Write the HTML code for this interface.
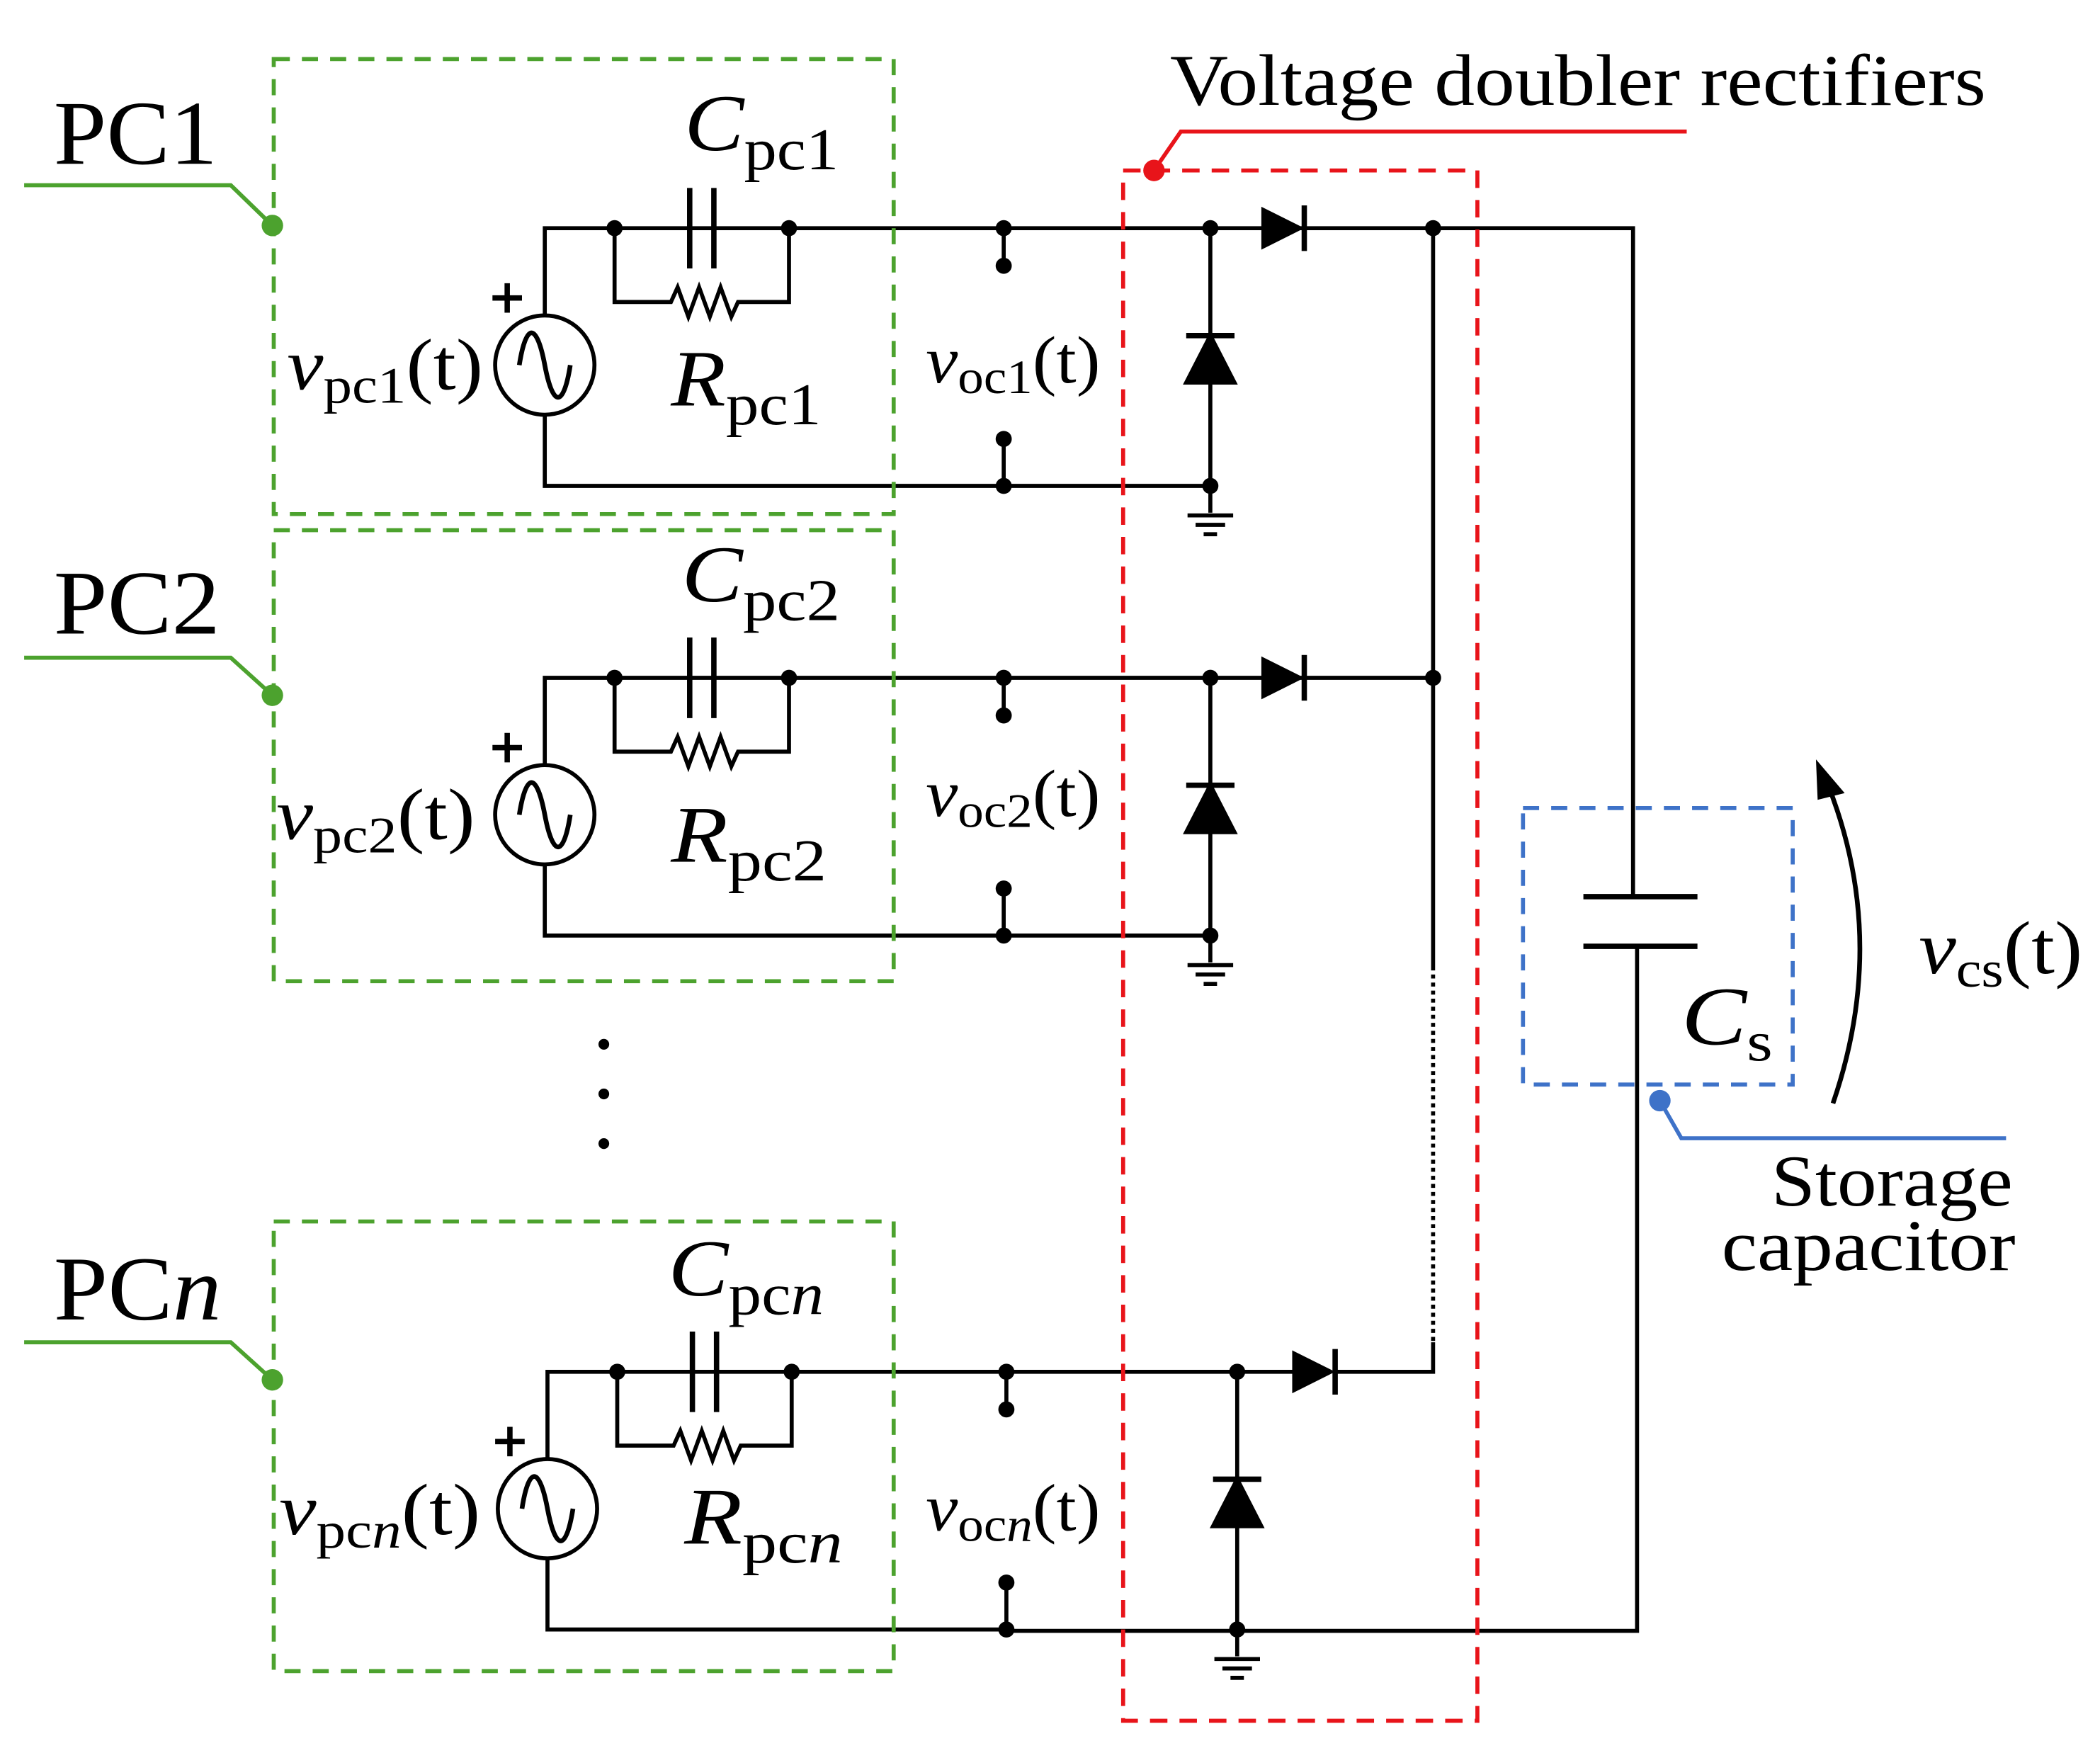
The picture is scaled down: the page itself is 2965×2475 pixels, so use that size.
<!DOCTYPE html>
<html><head><meta charset="utf-8"><style>
html,body{margin:0;padding:0;background:#fff}
svg{display:block}
text{font-family:"Liberation Serif",serif;fill:#000}
.it{font-style:italic}
</style></head><body>
<svg width="2965" height="2475" viewBox="0 0 1565 1306" preserveAspectRatio="none" xmlns="http://www.w3.org/2000/svg">
<defs>
<g id="blk" stroke="#000" fill="none" stroke-width="3">
  <path d="M406 235 V170 H748 M406 309 V362 H748"/>
  <circle cx="406" cy="272" r="37"/>
  <path d="M387 272 C392 240 400 240 406 272 C412 304 420 304 425 272" stroke-width="3.5"/>
  <path d="M458 170 V225 H500 L505 214 L513 236 L521 214 L529 236 L537 214 L545 236 L550 225 H588 V170"/>
  <path d="M514 140 V200 M532 140 V200" stroke-width="4"/>
  <path d="M748 170 V198 M748 327 V362"/>
  <g fill="#000" stroke="none">
    <circle cx="458" cy="170" r="6"/><circle cx="588" cy="170" r="6"/>
    <circle cx="748" cy="170" r="6"/><circle cx="748" cy="198" r="6"/>
    <circle cx="748" cy="327" r="6"/><circle cx="748" cy="362" r="6"/>
  </g>
  <path d="M367 222 H389 M378 211 V233" stroke-width="4"/>
</g>
<g id="dio" stroke="#000" fill="none" stroke-width="3">
  <path d="M0 0 V192 M0 192 V212 M-17 214 H17 M-11 221 H11 M-5 228 H5"/>
  <path d="M-18 80 H18" stroke-width="4"/>
  <path d="M-18 115 L18 115 L0 80 Z" fill="#000"/>
  <circle cx="0" cy="0" r="6" fill="#000" stroke="none"/>
  <circle cx="0" cy="192" r="6" fill="#000" stroke="none"/>
</g>
</defs>

<use href="#blk"/>
<path d="M748 170 H1217 V668 M748 362 H902" stroke="#000" stroke-width="3" fill="none"/>
<use href="#dio" x="902" y="170"/>
<path d="M940 154 L972 170 L940 186 Z" fill="#000"/>
<path d="M972 153 V187" stroke="#000" stroke-width="4"/>
<circle cx="1068" cy="170" r="6" fill="#000"/>

<use href="#blk" y="335"/>
<path d="M748 505 H1068 M748 697 H902" stroke="#000" stroke-width="3" fill="none"/>
<use href="#dio" x="902" y="505"/>
<path d="M940 489 L972 505 L940 521 Z" fill="#000"/>
<path d="M972 488 V522" stroke="#000" stroke-width="4"/>
<circle cx="1068" cy="505" r="6" fill="#000"/>

<path d="M1068 170 V720" stroke="#000" stroke-width="3"/>
<path d="M1068 720 V1000" stroke="#000" stroke-width="3" stroke-dasharray="3 3"/>
<path d="M1068 1000 V1022 H995" stroke="#000" stroke-width="3" fill="none"/>

<use href="#blk" x="2" y="852"/>
<path d="M750 1022 H965 M750 1215 H1220 V705" stroke="#000" stroke-width="3" fill="none"/>
<use href="#dio" x="922" y="1022"/>
<path d="M963 1006 L995 1022 L963 1038 Z" fill="#000"/>
<path d="M995 1005 V1039" stroke="#000" stroke-width="4"/>

<path d="M1180 668 H1265 M1180 705 H1265" stroke="#000" stroke-width="4"/>

<circle cx="450" cy="778" r="4" fill="#000"/>
<circle cx="450" cy="815" r="4" fill="#000"/>
<circle cx="450" cy="852" r="4" fill="#000"/>

<g stroke="#4ca22e" stroke-width="3" fill="none" stroke-dasharray="12 9">
<rect x="204" y="44" width="462" height="339"/>
<rect x="204" y="395" width="462" height="336"/>
<rect x="204" y="910" width="462" height="335"/>
</g>
<g stroke="#4ca22e" stroke-width="3" fill="none">
<path d="M18 138 H172 L203 168"/>
<path d="M18 490 H172 L203 518"/>
<path d="M18 1000 H172 L203 1028"/>
</g>
<g fill="#4ca22e"><circle cx="203" cy="168" r="8"/><circle cx="203" cy="518" r="8"/><circle cx="203" cy="1028" r="8"/></g>

<rect x="837" y="127" width="264" height="1155" stroke="#e8141a" stroke-width="3" fill="none" stroke-dasharray="13 9"/>
<path d="M860 127 L880 98 H1257" stroke="#e8141a" stroke-width="3" fill="none"/>
<circle cx="860" cy="127" r="8" fill="#e8141a"/>

<rect x="1135" y="602" width="201" height="206" stroke="#3e72c8" stroke-width="3" fill="none" stroke-dasharray="12 9"/>
<path d="M1237 820 L1253 848 H1495" stroke="#3e72c8" stroke-width="3" fill="none"/>
<circle cx="1237" cy="820" r="8" fill="#3e72c8"/>

<path d="M1366 822 Q1408 700 1362 584" stroke="#000" stroke-width="3.5" fill="none"/>
<path d="M1355 570 L1372 590 L1356 594 Z" fill="#000" stroke="#000" stroke-width="3"/>

<g lengthAdjust="spacingAndGlyphs">
<text x="40" y="122" font-size="68" textLength="122" lengthAdjust="spacingAndGlyphs">PC1</text>
<text x="40" y="472" font-size="68" textLength="124" lengthAdjust="spacingAndGlyphs">PC2</text>
<text x="40" y="983" font-size="68" textLength="125" lengthAdjust="spacingAndGlyphs">PC<tspan class="it">n</tspan></text>

<text x="510" y="112" font-size="60" class="it" textLength="115" lengthAdjust="spacingAndGlyphs">C<tspan font-size="44" font-style="normal" dy="14">pc1</tspan></text>
<text x="508" y="448" font-size="60" class="it" textLength="118" lengthAdjust="spacingAndGlyphs">C<tspan font-size="44" font-style="normal" dy="14">pc2</tspan></text>
<text x="498" y="965" font-size="60" class="it" textLength="116" lengthAdjust="spacingAndGlyphs">C<tspan font-size="44" font-style="normal" dy="14">pc<tspan class="it">n</tspan></tspan></text>

<text x="500" y="302" font-size="60" class="it" textLength="112" lengthAdjust="spacingAndGlyphs">R<tspan font-size="44" font-style="normal" dy="14">pc1</tspan></text>
<text x="500" y="642" font-size="60" class="it" textLength="116" lengthAdjust="spacingAndGlyphs">R<tspan font-size="44" font-style="normal" dy="14">pc2</tspan></text>
<text x="510" y="1150" font-size="60" class="it" textLength="118" lengthAdjust="spacingAndGlyphs">R<tspan font-size="44" font-style="normal" dy="14">pc<tspan class="it">n</tspan></tspan></text>

<text x="214" y="290" font-size="54" textLength="146" lengthAdjust="spacingAndGlyphs"><tspan class="it">v</tspan><tspan font-size="38" dy="10">pc1</tspan><tspan dy="-10">(t)</tspan></text>
<text x="206" y="625" font-size="54" textLength="148" lengthAdjust="spacingAndGlyphs"><tspan class="it">v</tspan><tspan font-size="38" dy="10">pc2</tspan><tspan dy="-10">(t)</tspan></text>
<text x="208" y="1143" font-size="54" textLength="150" lengthAdjust="spacingAndGlyphs"><tspan class="it">v</tspan><tspan font-size="38" dy="10">pc<tspan class="it">n</tspan></tspan><tspan dy="-10">(t)</tspan></text>

<text x="690" y="285" font-size="50" textLength="130" lengthAdjust="spacingAndGlyphs"><tspan class="it">v</tspan><tspan font-size="36" dy="8">oc1</tspan><tspan dy="-8">(t)</tspan></text>
<text x="690" y="608" font-size="50" textLength="130" lengthAdjust="spacingAndGlyphs"><tspan class="it">v</tspan><tspan font-size="36" dy="8">oc2</tspan><tspan dy="-8">(t)</tspan></text>
<text x="690" y="1140" font-size="50" textLength="130" lengthAdjust="spacingAndGlyphs"><tspan class="it">v</tspan><tspan font-size="36" dy="8">oc<tspan class="it">n</tspan></tspan><tspan dy="-8">(t)</tspan></text>

<text x="872" y="78" font-size="54" textLength="608" lengthAdjust="spacingAndGlyphs">Voltage doubler rectifiers</text>
<text x="1253" y="778" font-size="62" class="it" textLength="68" lengthAdjust="spacingAndGlyphs">C<tspan font-size="42" font-style="normal" dy="12">s</tspan></text>
<text x="1430" y="725" font-size="56" textLength="122" lengthAdjust="spacingAndGlyphs"><tspan class="it">v</tspan><tspan font-size="38" dy="10">cs</tspan><tspan dy="-10">(t)</tspan></text>
<text x="1320" y="898" font-size="54" textLength="180" lengthAdjust="spacingAndGlyphs">Storage</text>
<text x="1283" y="946" font-size="54" textLength="219" lengthAdjust="spacingAndGlyphs">capacitor</text>
</g>
</svg>
</body></html>
